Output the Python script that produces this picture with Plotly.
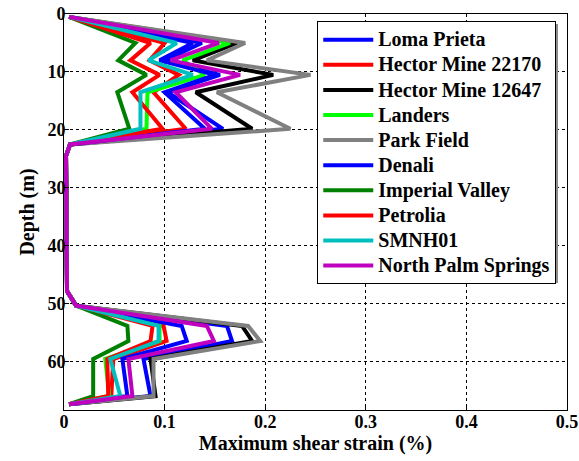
import plotly.graph_objects as go

depth = [0.5, 5, 8, 10.5, 13.5, 19.8, 22.5, 24.5, 47.8, 50.3, 53.8, 56.4, 59.5, 65.9, 67.3]

names = ["Loma Prieta", "Hector Mine 22170", "Hector Mine 12647", "Landers", "Park Field",
         "Denali", "Imperial Valley", "Petrolia", "SMNH01", "North Palm Springs"]
colors = ["#0000ff", "#ff0000", "#000000", "#00ff00", "#808080",
          "#0000ff", "#008000", "#ff0000", "#00bfbf", "#bf00bf"]

loma_prieta = [0.005, 0.137, 0.100, 0.155, 0.103, 0.158, 0.006, 0.002, 0.003, 0.012, 0.162, 0.167, 0.079, 0.086, 0.005]
hector_22170 = [0.005, 0.100, 0.085, 0.114, 0.089, 0.121, 0.006, 0.002, 0.003, 0.012, 0.099, 0.102, 0.049, 0.047, 0.005]
hector_12647 = [0.005, 0.172, 0.128, 0.208, 0.131, 0.187, 0.006, 0.002, 0.003, 0.012, 0.177, 0.187, 0.086, 0.091, 0.005]
landers = [0.005, 0.165, 0.118, 0.140, 0.083, 0.082, 0.006, 0.002, 0.003, 0.012, 0.095, 0.095, 0.041, 0.045, 0.005]
park_field = [0.005, 0.180, 0.142, 0.245, 0.152, 0.225, 0.006, 0.002, 0.003, 0.012, 0.183, 0.195, 0.089, 0.089, 0.005]
denali = [0.005, 0.128, 0.095, 0.150, 0.100, 0.140, 0.006, 0.002, 0.003, 0.012, 0.117, 0.122, 0.058, 0.063, 0.005]
imperial_valley = [0.005, 0.071, 0.054, 0.082, 0.053, 0.065, 0.006, 0.002, 0.003, 0.012, 0.063, 0.064, 0.029, 0.029, 0.005]
petrolia = [0.005, 0.086, 0.066, 0.095, 0.068, 0.098, 0.006, 0.002, 0.003, 0.012, 0.088, 0.086, 0.043, 0.044, 0.005]
smnh01 = [0.005, 0.112, 0.084, 0.128, 0.076, 0.076, 0.006, 0.002, 0.003, 0.012, 0.094, 0.094, 0.046, 0.056, 0.005]
north_palm_springs = [0.005, 0.154, 0.106, 0.175, 0.111, 0.147, 0.006, 0.002, 0.003, 0.012, 0.142, 0.149, 0.064, 0.068, 0.005]

series = [loma_prieta, hector_22170, hector_12647, landers, park_field,
          denali, imperial_valley, petrolia, smnh01, north_palm_springs]

x_ticks = [0, 0.1, 0.2, 0.3, 0.4, 0.5]
x_labels = ["0", "0.1", "0.2", "0.3", "0.4", "0.5"]
y_ticks = [0, 10, 20, 30, 40, 50, 60]

FONT = "Liberation Serif"

fig = go.Figure()
for name, col, vals in zip(names, colors, series):
    fig.add_trace(go.Scatter(x=vals, y=depth, mode="lines",
                             name='<span style="font-size:20px">' + name + '</span>',
                             line=dict(color=col, width=4)))

axis_common = dict(showline=True, mirror=True, linecolor="black", linewidth=1,
                   ticks="inside", ticklen=5, tickcolor="black",
                   showgrid=True, gridcolor="black", gridwidth=1, griddash="dot",
                   zeroline=False, automargin=False,
                   tickfont=dict(family=FONT, size=18, color="black", weight="bold"))

fig.update_layout(
    width=579, height=461,
    margin=dict(l=64, r=12, t=14, b=51),
    paper_bgcolor="white", plot_bgcolor="white",
    xaxis=dict(range=[0, 0.5], tickvals=x_ticks, ticktext=x_labels, ticklabelstandoff=-5,
               title=dict(text="Maximum shear strain (%)", standoff=4,
                          font=dict(family=FONT, size=20, color="black", weight="bold")),
               **axis_common),
    yaxis=dict(range=[68.3, 0], tickvals=y_ticks, ticklabelstandoff=-6,
               title=dict(text="Depth (m)", standoff=7,
                          font=dict(family=FONT, size=20, color="black", weight="bold")),
               **axis_common),
    legend=dict(x=0.5035, y=0.982, xanchor="left", yanchor="top",
                bgcolor="white", bordercolor="black", borderwidth=1,
                font=dict(family=FONT, size=17, color="black", weight="bold"),
                itemwidth=50, tracegroupgap=0),
    showlegend=True,
)

# legend drop shadow
fig.add_shape(type="rect", xref="paper", yref="paper",
              x0=0.5094, x1=0.9821, y0=0.3207, y1=0.9747,
              fillcolor="#8c8c8c", line=dict(width=0), layer="above")

fig.write_html("out.html")
